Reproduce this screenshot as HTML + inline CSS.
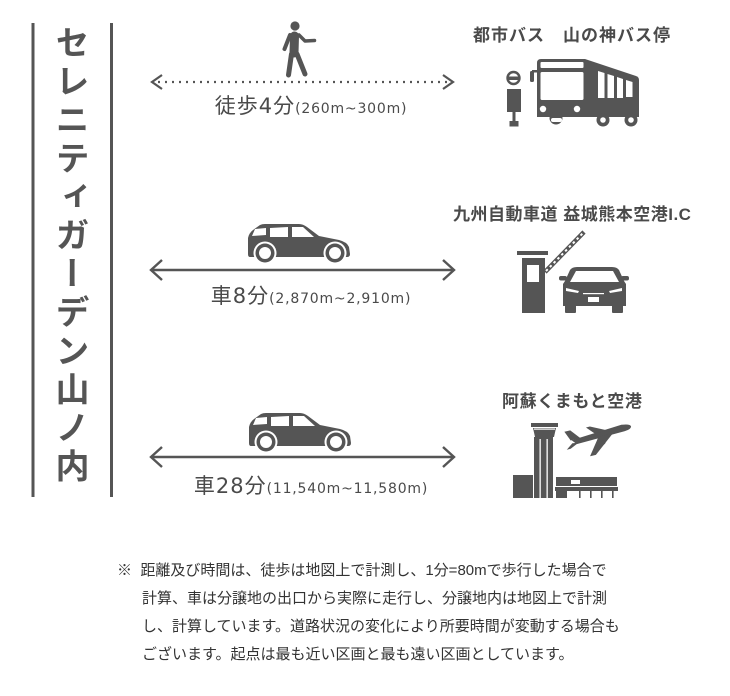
<!DOCTYPE html>
<html lang="ja">
<head>
<meta charset="utf-8">
<style>
  html,body{margin:0;padding:0;background:#fff;}
  body{width:730px;height:696px;position:relative;overflow:hidden;
       font-family:"Liberation Sans","Noto Sans CJK JP",sans-serif;color:#444;}
  .abs{position:absolute;white-space:nowrap;}
  .title{position:absolute;left:55px;top:25px;width:34px;height:470px;
         writing-mode:vertical-rl;font-size:34px;line-height:34px;letter-spacing:4.5px;
         font-weight:bold;color:#555;font-family:"Noto Sans CJK JP",sans-serif;}
  .lbl{position:absolute;left:111px;width:400px;text-align:center;white-space:nowrap;
       font-family:"DejaVu Sans","Noto Sans CJK JP",sans-serif;color:#4a4a4a;}
  .lbl .big{font-size:21px;letter-spacing:1px;}
  .lbl .big .cj{font-family:"Noto Sans CJK JP",sans-serif;}
  .lbl .sm{font-size:14px;letter-spacing:0.8px;}
  .dest{position:absolute;white-space:nowrap;font-size:17px;font-weight:bold;color:#4a4a4a;
        font-family:"Liberation Sans","Noto Sans CJK JP",sans-serif;line-height:20px;}
  .note{position:absolute;left:117px;top:557px;font-size:15px;line-height:28px;color:#333;
        font-family:"Liberation Sans","Noto Sans CJK JP",sans-serif;white-space:nowrap;}
</style>
</head>
<body>

<svg class="abs" style="left:0;top:0" width="730" height="696" viewBox="0 0 730 696">
  <!-- vertical frame lines -->
  <rect x="31.5" y="23" width="3" height="474" fill="#555"/>
  <rect x="110" y="23" width="3" height="474" fill="#555"/>

  <!-- ===== Walk row ===== -->
  <g fill="#555" stroke="#555" stroke-linecap="round" stroke-linejoin="round">
    <circle cx="295" cy="26" r="4.6" stroke="none"/>
    <line x1="294.5" y1="36" x2="294" y2="53" stroke-width="9"/>
    <line x1="290" y1="35" x2="284.5" y2="49" stroke-width="4"/>
    <polyline points="299,35 305,41 314.5,40.5" fill="none" stroke-width="3.5"/>
    <line x1="291.5" y1="54" x2="288.5" y2="75" stroke-width="5"/>
    <line x1="297" y1="54" x2="305" y2="74" stroke-width="5"/>
  </g>
  <line x1="158" y1="82" x2="448" y2="82" stroke="#555" stroke-width="2.2" stroke-dasharray="2 5" />
  <polyline points="162,75 152,82 162,89" fill="none" stroke="#555" stroke-width="2.2"/>
  <polyline points="443,75 453,82 443,89" fill="none" stroke="#555" stroke-width="2.2"/>

  <!-- bus stop -->
  <circle cx="513.5" cy="78" r="6" fill="#fff" stroke="#555" stroke-width="2.4"/>
  <rect x="507" y="76.5" width="13" height="3.5" fill="#555"/>
  <rect x="507" y="89" width="14" height="23" fill="#555"/>
  <rect x="512.5" y="111" width="3" height="11" fill="#555"/>
  <rect x="509.5" y="121" width="9" height="5.5" fill="#555"/>
  <!-- bus -->
  <g fill="#555">
    <rect x="530" y="71" width="4" height="11" rx="1.5"/>
    <rect x="532" y="70" width="6" height="2.5"/>
    <path d="M537,63 Q537,59 541,59 L585,59 L636,76 Q639,77 639,80 L639,117 L537,117 Z"/>
    <circle cx="556" cy="118" r="6.5"/>
    <circle cx="603" cy="120" r="6.5"/>
    <circle cx="631" cy="120" r="6.5"/>
  </g>
  <g fill="#fff">
    <rect x="540.5" y="62" width="43" height="6" rx="1"/>
    <rect x="540.5" y="72" width="43" height="28" rx="1.5"/>
    <polygon points="598,71 604.5,73 604.5,98 598,98"/>
    <polygon points="607.5,74 614,76 614,98 607.5,98"/>
    <polygon points="617,77 623,79 623,98 617,98"/>
    <polygon points="626,80 632.5,82 632.5,97 626,97"/>
    <circle cx="543" cy="109" r="3.2"/>
    <circle cx="577" cy="109" r="3.2"/>
    <rect x="551" y="118" width="11" height="4" rx="2"/>
    <circle cx="603" cy="120" r="2.8"/>
    <circle cx="631" cy="120" r="2.8"/>
  </g>

  <!-- ===== Car row 1 ===== -->
  <g transform="translate(247,224)">
    <path d="M1,30 L1,14 Q2,9 6,6 L13,1 Q15,0 18,0 L52,0 Q56,0 60,3 L72,12 L92,16 Q100,18 102,23 L103,30 Q103,33 100,33 L3,33 Q1,33 1,30 Z" fill="#555"/>
    <polygon points="8,5 19,4 19,11 5,12" fill="#fff"/>
    <polygon points="23,4 41,3 41,13 23,13" fill="#fff"/>
    <polygon points="45,3 56,3 67,13 45,13" fill="#fff"/>
    <circle cx="18" cy="29" r="11.5" fill="#fff"/>
    <circle cx="18" cy="29" r="9.5" fill="#555"/>
    <circle cx="18" cy="29" r="6" fill="#fff"/>
    <circle cx="88" cy="29" r="11.5" fill="#fff"/>
    <circle cx="88" cy="29" r="9.5" fill="#555"/>
    <circle cx="88" cy="29" r="6" fill="#fff"/>
  </g>
  <line x1="151" y1="270" x2="454" y2="270" stroke="#555" stroke-width="2.4"/>
  <polyline points="162,260 151,270 162,280" fill="none" stroke="#555" stroke-width="2.4"/>
  <polyline points="443,260 454,270 443,280" fill="none" stroke="#555" stroke-width="2.4"/>

  <!-- tollgate -->
  <g fill="#555">
    <rect x="517" y="251" width="31" height="4"/>
    <rect x="522" y="258" width="23" height="55"/>
  </g>
  <rect x="527" y="265" width="12" height="17" fill="#fff"/>
  <line x1="545" y1="272" x2="584" y2="232" stroke="#555" stroke-width="4.5"/>
  <line x1="546" y1="271" x2="583" y2="233" stroke="#fff" stroke-width="2" stroke-dasharray="2.5 3"/>
  <!-- front car -->
  <g fill="#555">
    <path d="M565,281 L570,270 Q572,267 577,267 L612,267 Q617,267 619,270 L624,281 L626,284 L626,306 L563,306 L563,284 Z"/>
    <rect x="559" y="276" width="8" height="4.5" rx="2"/>
    <rect x="621" y="276" width="8" height="4.5" rx="2"/>
    <rect x="565" y="304" width="11" height="9" rx="1"/>
    <rect x="612" y="304" width="11" height="9" rx="1"/>
  </g>
  <g fill="#fff">
    <polygon points="576,271 613,271 619,282 570,282"/>
    <polygon points="566,288 579,291 578,293 566,291"/>
    <polygon points="622,288 609,291 610,293 622,291"/>
    <rect x="588" y="297" width="11" height="5"/>
    <rect x="583" y="293" width="21" height="1.2"/>
  </g>

  <!-- ===== Car row 2 ===== -->
  <g transform="translate(248,413)">
    <path d="M1,30 L1,14 Q2,9 6,6 L13,1 Q15,0 18,0 L52,0 Q56,0 60,3 L72,12 L92,16 Q100,18 102,23 L103,30 Q103,33 100,33 L3,33 Q1,33 1,30 Z" fill="#555"/>
    <polygon points="8,5 19,4 19,11 5,12" fill="#fff"/>
    <polygon points="23,4 41,3 41,13 23,13" fill="#fff"/>
    <polygon points="45,3 56,3 67,13 45,13" fill="#fff"/>
    <circle cx="18" cy="29" r="11.5" fill="#fff"/>
    <circle cx="18" cy="29" r="9.5" fill="#555"/>
    <circle cx="18" cy="29" r="6" fill="#fff"/>
    <circle cx="88" cy="29" r="11.5" fill="#fff"/>
    <circle cx="88" cy="29" r="9.5" fill="#555"/>
    <circle cx="88" cy="29" r="6" fill="#fff"/>
  </g>
  <line x1="151" y1="457" x2="454" y2="457" stroke="#555" stroke-width="2.4"/>
  <polyline points="162,447 151,457 162,467" fill="none" stroke="#555" stroke-width="2.4"/>
  <polyline points="443,447 454,457 443,467" fill="none" stroke="#555" stroke-width="2.4"/>

  <!-- airport -->
  <g fill="#555">
    <rect x="531" y="423" width="27" height="4"/>
    <polygon points="533,428 556,428 554,437 535,437"/>
    <rect x="534" y="437" width="19" height="61"/>
    <rect x="513" y="475" width="20" height="23"/>
    <rect x="556" y="477" width="61" height="9"/>
    <rect x="555" y="487" width="63" height="4"/>
    <rect x="556" y="491" width="11" height="7"/>
    <rect x="579" y="491" width="1.6" height="7"/>
    <rect x="590" y="491" width="1.6" height="7"/>
    <rect x="601" y="491" width="1.6" height="7"/>
    <rect x="612" y="491" width="1.6" height="7"/>
  </g>
  <g fill="#fff">
    <rect x="539.5" y="439" width="1.3" height="59"/>
    <rect x="546.5" y="439" width="1.3" height="59"/>
    <rect x="534" y="428.5" width="21" height="1.2"/>
    <rect x="571" y="480" width="9" height="4"/>
  </g>
  <!-- plane -->
  <g transform="translate(601,434) rotate(-14)" fill="#555">
    <path d="M-30,-1 L22,-4 Q31,-3 31,0 Q30,3 22,3 L-26,4 Z"/>
    <path d="M-31,-1 L-35,-11 L-29,-11 L-21,-1 Z"/>
    <path d="M-30,2 L-37,7 L-33,7 L-24,3 Z"/>
    <path d="M-3,2 L-16,19 L-10,19 L12,2 Z"/>
    <path d="M-6,-2 L-13,-10 L-9,-10 L7,-2 Z"/>
    <ellipse cx="-2" cy="9" rx="4.5" ry="2.2"/>
  </g>
</svg>

<div class="title">セレニティガーデン山ノ内</div>

<div class="lbl" style="top:90px;"><span class="big"><span class="cj">徒歩</span>4<span class="cj">分</span></span><span class="sm">(260m~300m)</span></div>
<div class="lbl" style="top:280px;"><span class="big"><span class="cj">車</span>8<span class="cj">分</span></span><span class="sm">(2,870m~2,910m)</span></div>
<div class="lbl" style="top:470px;"><span class="big"><span class="cj">車</span>28<span class="cj">分</span></span><span class="sm">(11,540m~11,580m)</span></div>

<div class="dest" style="left:473px;top:26px;letter-spacing:1px;">都市バス　山の神バス停</div>
<div class="dest" style="left:453px;top:205px;letter-spacing:0.5px;">九州自動車道 益城熊本空港I.C</div>
<div class="dest" style="left:502px;top:392px;letter-spacing:0.6px;">阿蘇くまもと空港</div>

<div class="note">※&nbsp;&nbsp;距離及び時間は、徒歩は地図上で計測し、1分=80mで歩行した場合で<br>
<span style="padding-left:25px">計算、車は分譲地の出口から実際に走行し、分譲地内は地図上で計測</span><br>
<span style="padding-left:25px">し、計算しています。道路状況の変化により所要時間が変動する場合も</span><br>
<span style="padding-left:25px">ございます。起点は最も近い区画と最も遠い区画としています。</span></div>

</body>
</html>
